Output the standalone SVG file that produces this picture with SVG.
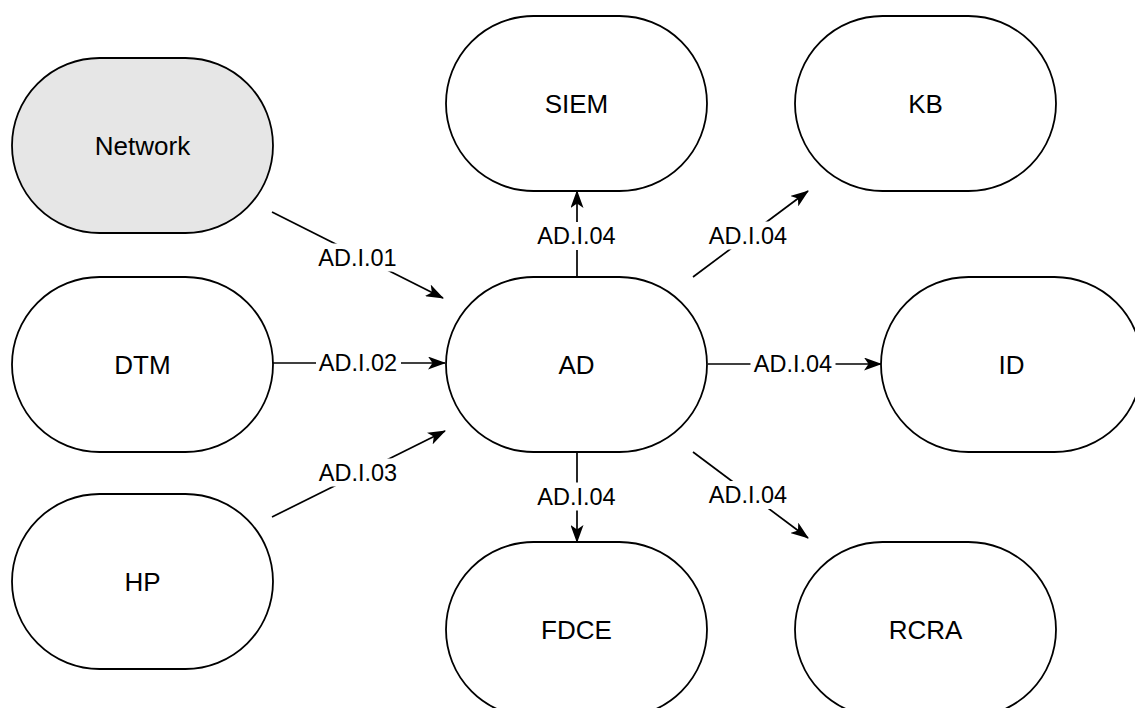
<svg xmlns="http://www.w3.org/2000/svg" width="1135" height="708" viewBox="0 0 1135 708">
<style>
.node rect{fill:#fff;stroke:#000;stroke-width:1.8}
.node.gray rect{fill:#e6e6e6}
.node text{font-family:"Liberation Sans",Arial,sans-serif;font-size:26px;fill:#000;text-anchor:middle;dominant-baseline:central}
.edge line{stroke:#000;stroke-width:1.7;marker-end:url(#arr)}
.lbl rect{fill:#fff}
.lbl text{font-family:"Liberation Sans",Arial,sans-serif;font-size:23.5px;fill:#000;text-anchor:middle;dominant-baseline:central}
</style>
<defs>
<marker id="arr" markerUnits="userSpaceOnUse" markerWidth="18" markerHeight="13" viewBox="0 0 18 13" refX="17" refY="6.5" orient="auto">
<path d="M0,0 L18,6.5 L0,13 L4.5,6.5 Z" fill="#000"/>
</marker>
</defs>
<rect width="1135" height="708" fill="#fff"/>
<g id="connectors">
<g class="edge"><line x1="272" y1="212" x2="443" y2="298"/><g class="lbl"><rect x="315" y="243.5" width="85" height="28"/><text x="357.5" y="257.5">AD.I.01</text></g></g>
<g class="edge"><line x1="273" y1="363" x2="445" y2="363"/><g class="lbl"><rect x="316" y="349" width="85" height="28"/><text x="358" y="363">AD.I.02</text></g></g>
<g class="edge"><line x1="272" y1="517" x2="445" y2="431"/><g class="lbl"><rect x="315" y="458.5" width="85" height="28"/><text x="358" y="472.5">AD.I.03</text></g></g>
<g class="edge"><line x1="577" y1="277" x2="577" y2="191"/><g class="lbl"><rect x="534" y="222" width="85" height="28"/><text x="576.5" y="236">AD.I.04</text></g></g>
<g class="edge"><line x1="693" y1="277" x2="808" y2="191"/><g class="lbl"><rect x="705.5" y="221.5" width="85" height="28"/><text x="748" y="235.5">AD.I.04</text></g></g>
<g class="edge"><line x1="708" y1="364" x2="881" y2="364"/><g class="lbl"><rect x="750.5" y="350" width="85" height="28"/><text x="793" y="364">AD.I.04</text></g></g>
<g class="edge"><line x1="577" y1="452" x2="577" y2="542"/><g class="lbl"><rect x="534" y="482.5" width="85" height="28"/><text x="576.5" y="496.5">AD.I.04</text></g></g>
<g class="edge"><line x1="693" y1="452" x2="808" y2="538"/><g class="lbl"><rect x="705.5" y="481" width="85" height="28"/><text x="748" y="495">AD.I.04</text></g></g>
</g>
<g id="node-network" class="node gray"><rect x="12" y="58" width="261" height="175" rx="87.5"/><text x="142.5" y="146">Network</text></g>
<g id="node-dtm" class="node"><rect x="12" y="277" width="261" height="175" rx="87.5"/><text x="142.5" y="365">DTM</text></g>
<g id="node-hp" class="node"><rect x="12" y="494" width="261" height="175" rx="87.5"/><text x="142.5" y="582">HP</text></g>
<g id="node-siem" class="node"><rect x="446" y="16" width="261" height="175" rx="87.5"/><text x="576.5" y="104">SIEM</text></g>
<g id="node-ad" class="node"><rect x="446" y="277" width="261" height="175" rx="87.5"/><text x="576.5" y="365">AD</text></g>
<g id="node-kb" class="node"><rect x="795" y="16" width="261" height="175" rx="87.5"/><text x="925.5" y="104">KB</text></g>
<g id="node-id" class="node"><rect x="881" y="277" width="261" height="175" rx="87.5"/><text x="1011.5" y="365">ID</text></g>
<g id="node-fdce" class="node"><rect x="446" y="542" width="261" height="175" rx="87.5"/><text x="576.5" y="630">FDCE</text></g>
<g id="node-rcra" class="node"><rect x="795" y="542" width="261" height="175" rx="87.5"/><text x="925.5" y="630">RCRA</text></g>
</svg>
